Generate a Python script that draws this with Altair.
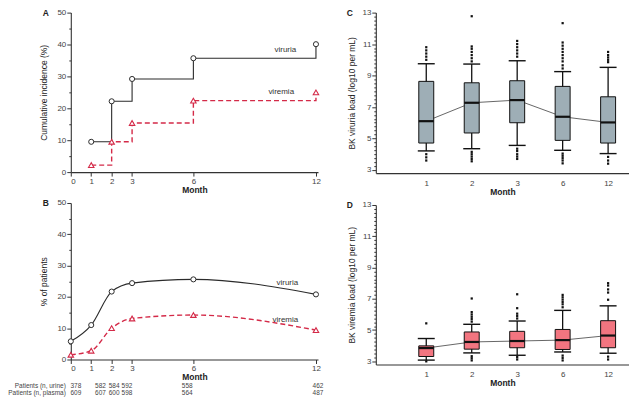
import altair as alt
import pandas as pd

FONT = "Liberation Sans"
DARK = "#2b2b2b"
RED = "#d42a48"
BOX_C = "#9eaeb6"
BOX_D = "#f27580"

# ---------- Panel A: cumulative incidence ----------
months_a = [1, 2, 3, 6, 12]
cum_viruria = [9.5, 22.2, 29.2, 35.7, 40.1]
cum_viremia = [2.2, 9.5, 15.4, 22.4, 25.0]

# ---------- Panel B: % of patients ----------
months_b = [0, 1, 2, 3, 6, 12]
pct_viruria = [5.8, 11.0, 21.7, 24.4, 25.6, 20.8]
pct_viremia = [1.5, 2.8, 10.0, 13.1, 14.2, 9.4]
n_urine = [378, 582, 584, 592, 558, 462]
n_plasma = [609, 607, 600, 598, 564, 487]
table_cols = [0.25, 1.45, 2.12, 2.75, 5.7, 12.1]
row_labels = ["Patients (n, urine)", "Patients (n, plasma)"]

# series label anchors (month, value)
labels_a = [("viruria", 10.5, 38.2), ("viremia", 10.3, 25.2)]
labels_b = [("viruria", 10.6, 24.4), ("viremia", 10.5, 12.6)]

# ---------- Panels C/D: box plots ----------
box_months = ["1", "2", "3", "6", "12"]
vir_lo = [4.21, 4.35, 4.56, 4.25, 4.04]
vir_q1 = [4.71, 5.35, 6.00, 4.88, 4.71]
vir_med = [6.10, 7.27, 7.44, 6.38, 6.02]
vir_q3 = [8.63, 8.54, 8.67, 8.31, 7.65]
vir_hi = [9.75, 9.73, 9.94, 9.25, 9.52]
vir_out = [
    [10.0, 10.2, 10.4, 10.6, 10.8, 4.0, 3.8, 3.6],
    [12.77, 9.9, 10.1, 10.3, 10.5, 10.7, 10.85, 4.15, 4.0, 3.85, 3.7, 3.55],
    [11.2, 11.0, 10.8, 10.6, 10.4, 10.2, 4.35, 4.2, 4.0, 3.85, 3.7],
    [12.33, 11.1, 10.9, 10.7, 10.5, 10.3, 10.1, 9.9, 9.65, 9.45, 4.04, 3.9, 3.75, 3.6, 3.42],
    [10.5, 10.3, 10.15, 10.0, 9.85, 3.83, 3.6, 3.4],
]
vm_lo = [3.08, 3.54, 3.39, 3.60, 3.52]
vm_q1 = [3.31, 3.78, 3.87, 3.76, 3.87]
vm_med = [3.85, 4.24, 4.30, 4.36, 4.65]
vm_q3 = [3.99, 4.88, 4.92, 5.04, 5.60]
vm_hi = [4.46, 5.37, 5.58, 6.26, 6.55]
vm_out = [
    [5.43, 3.0],
    [7.02, 6.15, 6.0, 5.85, 5.7, 5.54, 3.33, 3.2, 3.06],
    [7.29, 6.4, 6.05, 5.9, 5.74, 3.27, 3.12],
    [7.25, 7.1, 6.95, 6.8, 6.65, 6.46, 3.37, 3.22, 3.06],
    [8.0, 7.85, 7.6, 7.4, 6.94, 3.3, 3.12],
]

W_L = 248
W_R = 254
H_A = 160
H_B = 157
H_C = 161
H_D = 160


def letter(t, dx):
    return alt.Chart(pd.DataFrame({"t": [t]})).mark_text(
        font=FONT, fontSize=8.5, fontWeight="bold", color="#222", align="center", baseline="middle"
    ).encode(x=alt.value(dx), y=alt.value(0), text="t:N")


def month_x(field="month"):
    return alt.X(
        f"{field}:Q",
        scale=alt.Scale(domain=[0, 12.1], nice=False),
        axis=alt.Axis(values=months_b, title="Month", titleFontWeight="bold", tickSize=4,
                      labelPadding=1, titlePadding=0, format="d"),
    )


def pct_y(field, title):
    return alt.Y(
        f"{field}:Q",
        scale=alt.Scale(domain=[0, 50], nice=False),
        axis=alt.Axis(values=list(range(0, 51, 5)),
                      labelExpr="datum.value % 10 == 0 ? datum.label : ''",
                      tickSize=alt.condition("datum.value % 10 == 0", alt.value(4), alt.value(2)),
                      labelPadding=1, title=title, titleFontWeight="normal", titlePadding=8),
    )


def series_panel(months, s1, s2, interp, ytitle, labels, let):
    d1 = pd.DataFrame({"month": months, "v": s1})
    d2 = pd.DataFrame({"month": months, "v": s2})
    dl = pd.DataFrame({"t": [l[0] for l in labels], "month": [l[1] for l in labels],
                       "v": [l[2] for l in labels]})
    x = month_x()
    y = pct_y("v", ytitle)
    l1 = alt.Chart(d1).mark_line(interpolate=interp, color=DARK, strokeWidth=1.1).encode(x=x, y=y)
    l2 = alt.Chart(d2).mark_line(interpolate=interp, color=RED, strokeWidth=1.4,
                                 strokeDash=[5, 3]).encode(x=x, y=y)
    p1 = alt.Chart(d1).mark_point(shape="circle", filled=True, fill="white", stroke=DARK, strokeWidth=1,
                                  size=26, opacity=1).encode(x=x, y=y)
    p2 = alt.Chart(d2).mark_point(shape="triangle-up", filled=True, fill="white", stroke=RED,
                                  strokeWidth=1.1, size=30, opacity=1).encode(x=x, y=y)
    tx = alt.Chart(dl).mark_text(font=FONT, fontSize=8, color="#333", baseline="middle").encode(
        x=x, y=y, text="t:N")
    return [l1, l2, p1, p2, tx, letter(let, -25)]


layers_a = series_panel(months_a, cum_viruria, cum_viremia, "step-after",
                        "Cumulative incidence (%)", labels_a, "A")
panel_a = alt.layer(*layers_a).properties(width=W_L, height=H_A)

layers_b = series_panel(months_b, pct_viruria, pct_viremia, "monotone",
                        "% of patients", labels_b, "B")
dtab = pd.DataFrame({"col": table_cols, "u": [str(v) for v in n_urine], "p": [str(v) for v in n_plasma]})
xt = month_x("col")
TFS = 6.5
ROW1 = H_B + 27
ROW2 = H_B + 34
tab_u = alt.Chart(dtab).mark_text(font=FONT, fontSize=TFS, color="#444", baseline="middle").encode(
    x=xt, y=alt.value(ROW1), text="u:N")
tab_p = alt.Chart(dtab).mark_text(font=FONT, fontSize=TFS, color="#444", baseline="middle").encode(
    x=xt, y=alt.value(ROW2), text="p:N")
row_u = alt.Chart(pd.DataFrame({"t": [row_labels[0]]})).mark_text(
    font=FONT, fontSize=TFS, color="#444", align="right", baseline="middle").encode(
    x=alt.value(-5), y=alt.value(ROW1), text="t:N")
row_p = alt.Chart(pd.DataFrame({"t": [row_labels[1]]})).mark_text(
    font=FONT, fontSize=TFS, color="#444", align="right", baseline="middle").encode(
    x=alt.value(-5), y=alt.value(ROW2), text="t:N")
panel_b = alt.layer(*layers_b, tab_u, tab_p, row_u, row_p).properties(width=W_L, height=H_B)


def box_panel(lo, q1, med, q3, hi, outs, fill, ytitle, let, h):
    idx = list(range(1, len(box_months) + 1))
    df = pd.DataFrame({"i": idx, "lo": lo, "q1": q1, "med": med, "q3": q3, "hi": hi})
    rows = []
    for i, vals in zip(idx, outs):
        for v in vals:
            rows.append({"i": i, "v": v})
    dfo = pd.DataFrame(rows)
    lab_arr = "[''," + ",".join(f"'{m}'" for m in box_months) + "]"
    xaxis = alt.Axis(values=idx, labelExpr=f"{lab_arr}[datum.value]", ticks=False, labelPadding=6,
                     title="Month", titleFontWeight="bold", titlePadding=0)
    yaxis = alt.Axis(values=[3 + 0.25 * k for k in range(41)],
                     labelExpr="datum.value % 2 == 1 ? format(datum.value, 'd') : ''",
                     tickSize=alt.condition("datum.value % 2 == 1", alt.value(4), alt.value(2)),
                     labelPadding=1, title=ytitle, titleFontWeight="normal", titlePadding=5)
    xs = alt.Scale(domain=[0, 5.35], nice=False)
    ys = alt.Scale(domain=[2.8, 13], nice=False)

    def X():
        return alt.X("i:Q", scale=xs, axis=xaxis)

    def Y(f):
        return alt.Y(f"{f}:Q", scale=ys, axis=yaxis)

    base = alt.Chart(df)
    line = base.mark_line(color="#555", strokeWidth=0.9).encode(x=X(), y=Y("med"))
    whisk = base.mark_rule(color="#111", strokeWidth=1.3).encode(x=X(), y=Y("lo"), y2="hi:Q")
    box = base.mark_bar(size=15, fill=fill, stroke="#111", strokeWidth=1, opacity=1).encode(
        x=X(), y=Y("q1"), y2="q3:Q")
    mtick = base.mark_tick(orient="horizontal", size=15, thickness=2.2, color="#111", opacity=1).encode(
        x=X(), y=Y("med"))
    caplo = base.mark_tick(orient="horizontal", size=17, thickness=1.4, color="#111", opacity=1).encode(
        x=X(), y=Y("lo"))
    caphi = base.mark_tick(orient="horizontal", size=17, thickness=1.4, color="#111", opacity=1).encode(
        x=X(), y=Y("hi"))
    outl = alt.Chart(dfo).mark_square(size=5, color="#111", opacity=1).encode(x=X(), y=Y("v"))
    return alt.layer(line, whisk, box, mtick, caplo, caphi, outl, letter(let, -26)).properties(
        width=W_R, height=h)


panel_c = box_panel(vir_lo, vir_q1, vir_med, vir_q3, vir_hi, vir_out, BOX_C,
                    "BK viruria load (log10 per mL)", "C", H_C)
panel_d = box_panel(vm_lo, vm_q1, vm_med, vm_q3, vm_hi, vm_out, BOX_D,
                    "BK viremia load (log10 per mL)", "D", H_D)

left = alt.vconcat(panel_a, panel_b, spacing=5)
right = alt.vconcat(panel_c, panel_d, spacing=5)

chart = alt.hconcat(left, right, spacing=22).properties(
    padding={"left": 0, "top": 0, "right": 0, "bottom": 0}
).configure_view(stroke=None).configure_axis(
    grid=False,
    labelFont=FONT, titleFont=FONT,
    labelFontSize=8, titleFontSize=8.5,
    labelColor="#444", titleColor="#222",
    domainColor="#333", tickColor="#333", domainWidth=1.1,
)

chart.save("out.html", embed_options={"renderer": "svg", "actions": False})
